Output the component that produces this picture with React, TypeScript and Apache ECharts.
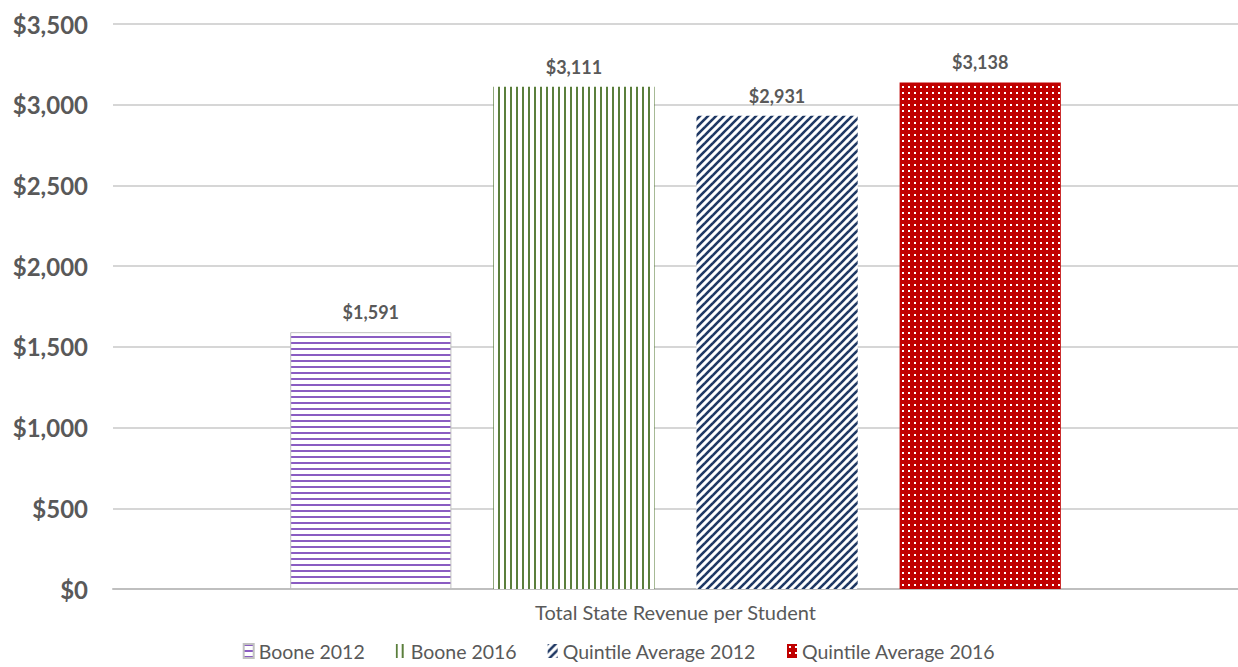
import React, { useEffect, useRef } from "react";
import * as echarts from "echarts";

const categories = ["Total State Revenue per Student"];
const seriesNames = ["Boone 2012", "Boone 2016", "Quintile Average 2012", "Quintile Average 2016"];
const boone2012 = [1591];
const boone2016 = [3111];
const quintile2012 = [2931];
const quintile2016 = [3138];
const yTicks = { min: 0, max: 3500, interval: 500 };

function makeCanvas(w: number, h: number, draw: (ctx: CanvasRenderingContext2D) => void) {
  const c = document.createElement("canvas");
  c.width = w;
  c.height = h;
  const ctx = c.getContext("2d")!;
  draw(ctx);
  return c;
}

function patterns() {
  const purple = makeCanvas(6, 6, (ctx) => {
    ctx.fillStyle = "#ffffff";
    ctx.fillRect(0, 0, 6, 6);
    ctx.fillStyle = "#8a5cc2";
    ctx.fillRect(0, 0, 6, 2);
  });
  const green = makeCanvas(6, 6, (ctx) => {
    ctx.fillStyle = "#ffffff";
    ctx.fillRect(0, 0, 6, 6);
    ctx.fillStyle = "#5b7f3c";
    ctx.fillRect(0, 0, 2, 6);
  });
  const blue = makeCanvas(8, 8, (ctx) => {
    ctx.fillStyle = "#ffffff";
    ctx.fillRect(0, 0, 8, 8);
    ctx.strokeStyle = "#1f3864";
    ctx.lineWidth = 2.6;
    for (const off of [-8, 0, 8]) {
      ctx.beginPath();
      ctx.moveTo(off - 1, 9);
      ctx.lineTo(off + 9, -1);
      ctx.stroke();
    }
  });
  const red = makeCanvas(6, 6, (ctx) => {
    ctx.fillStyle = "#c00000";
    ctx.fillRect(0, 0, 6, 6);
    ctx.fillStyle = "#ffffff";
    ctx.fillRect(2, 2, 2, 2);
  });
  return { purple, green, blue, red };
}

export default function App() {
  const ref = useRef<HTMLDivElement>(null);
  useEffect(() => {
    if (!ref.current) return;
    const chart = echarts.init(ref.current, undefined, { renderer: "svg" });
    const p = patterns();
    const font = "Lato, 'Open Sans', sans-serif";
    const labelStyle = {
      show: true,
      position: "top",
      distance: 11,
      color: "#595959",
      fontWeight: "bold",
      fontSize: 18,
      fontFamily: font,
      formatter: (v: any) => "$" + Number(v.value).toLocaleString("en-US"),
    };
    const mk = (name: string, data: number[], img: HTMLCanvasElement, border?: string) => ({
      name,
      type: "bar",
      data,
      barGap: "26%",
      barCategoryGap: "31.5%",
      itemStyle: {
        color: { image: img, repeat: "repeat" },
        borderColor: border || "transparent",
        borderWidth: border ? 1 : 0,
      },
      label: labelStyle,
    });
    chart.setOption({
      animation: false,
      backgroundColor: "#ffffff",
      grid: { left: 113, right: 0, top: 24, bottom: 78, containLabel: false },
      legend: {
        bottom: 1,
        left: "center",
        icon: "rect",
        itemWidth: 10,
        itemHeight: 14,
        itemGap: 31,
        textStyle: { color: "#595959", fontSize: 19.5, fontFamily: font },
        data: seriesNames,
      },
      xAxis: {
        type: "category",
        data: categories,
        axisLine: { lineStyle: { color: "#bfbfbf", width: 2 } },
        axisTick: { show: false },
        axisLabel: { color: "#595959", fontSize: 20, fontFamily: font, margin: 13 },
      },
      yAxis: {
        type: "value",
        min: yTicks.min,
        max: yTicks.max,
        interval: yTicks.interval,
        axisLine: { show: false },
        axisTick: { show: false },
        splitLine: { lineStyle: { color: "#c8c8c8", width: 1.5 } },
        axisLabel: {
          color: "#595959",
          fontSize: 24,
          fontWeight: "bold",
          fontFamily: font,
          margin: 25,
          formatter: (v: number) => "$" + v.toLocaleString("en-US"),
        },
      },
      series: [
        mk(seriesNames[0], boone2012, p.purple, "#c0c0c0"),
        mk(seriesNames[1], boone2016, p.green),
        mk(seriesNames[2], quintile2012, p.blue),
        mk(seriesNames[3], quintile2016, p.red),
      ],
    });
    return () => chart.dispose();
  }, []);
  return (
    <div
      ref={ref}
      style={{ position: "fixed", left: 0, top: 0, width: 1238, height: 667, background: "#fff" }}
    />
  );
}
